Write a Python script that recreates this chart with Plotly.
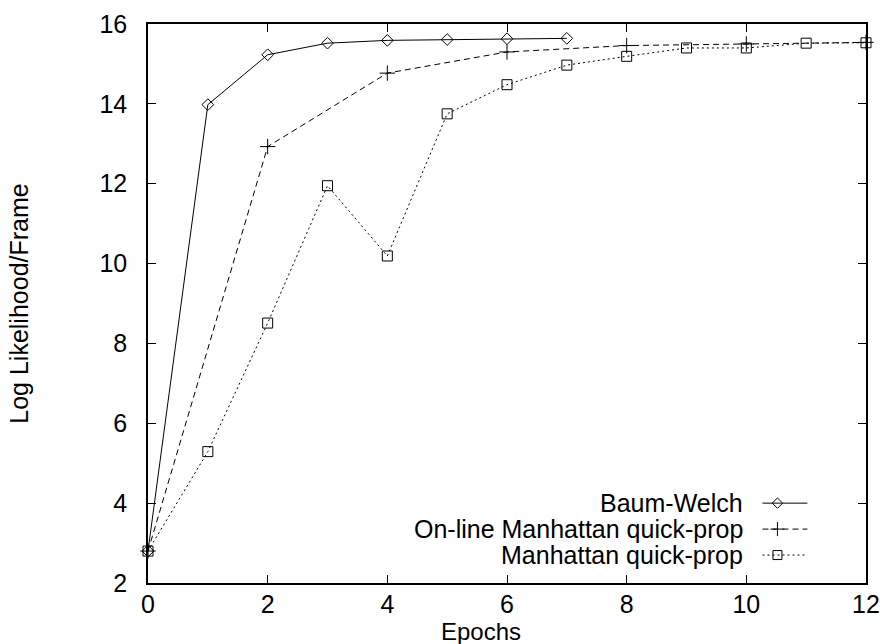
import plotly.graph_objects as go

# Training curves: log likelihood per frame against training epochs
bw_epochs = [0, 1, 2, 3, 4, 5, 6, 7]
bw_loglik = [2.80, 13.98, 15.23, 15.52, 15.59, 15.61, 15.63, 15.64]

online_epochs = [0, 2, 4, 6, 8, 10, 12]
online_loglik = [2.80, 12.93, 14.77, 15.30, 15.46, 15.50, 15.54]

mqp_epochs = [0, 1, 2, 3, 4, 5, 6, 7, 8, 9, 10, 11, 12]
mqp_loglik = [2.80, 5.29, 8.51, 11.95, 10.19, 13.75, 14.48, 14.97, 15.19,
              15.40, 15.40, 15.52, 15.53]

series_names = ["Baum-Welch", "On-line Manhattan quick-prop", "Manhattan quick-prop"]
x_ticks = [0, 2, 4, 6, 8, 10, 12]
y_ticks = [2, 4, 6, 8, 10, 12, 14, 16]

FONT = "Liberation Sans, Arial, Helvetica, sans-serif"
FS = 25
styles = [
    dict(dash="solid", symbol="diamond-open", size=9),
    dict(dash="6px,4px", symbol="cross-thin", size=11),
    dict(dash="2px,3px", symbol="square-open", size=10),
]
data = [(bw_epochs, bw_loglik), (online_epochs, online_loglik), (mqp_epochs, mqp_loglik)]

fig = go.Figure()
for (xs, ys), st in zip(data, styles):
    fig.add_trace(go.Scatter(
        x=xs, y=ys, mode="lines+markers", showlegend=False, cliponaxis=False,
        line=dict(color="black", width=1, dash=st["dash"]),
        marker=dict(symbol=st["symbol"], size=st["size"], color="black",
                    line=dict(color="black", width=1)),
    ))

# Key in the lower right: label, then a short sample of line and marker
key_text_x = 9.98
key_line_x = [10.27, 11.02]
key_mark_x = 10.52
key_rows_y = [4.0, 3.35, 2.70]
for name, st, ky in zip(series_names, styles, key_rows_y):
    fig.add_trace(go.Scatter(
        x=key_line_x, y=[ky, ky], mode="lines", showlegend=False, hoverinfo="skip",
        line=dict(color="black", width=1, dash=st["dash"]),
    ))
    fig.add_trace(go.Scatter(
        x=[key_mark_x], y=[ky], mode="markers", showlegend=False, hoverinfo="skip",
        marker=dict(symbol=st["symbol"], size=st["size"] - 1, color="black",
                    line=dict(color="black", width=1)),
    ))
    fig.add_annotation(x=key_text_x, y=ky, text=name, showarrow=False,
                       xanchor="right", yanchor="middle",
                       font=dict(family=FONT, size=FS, color="black"))

# x-axis title at the bottom edge, under the tick labels
fig.add_annotation(x=0.464, xref="paper", y=-0.1091, yref="paper", text="Epochs",
                   showarrow=False, xanchor="center", yanchor="bottom", borderpad=0,
                   yshift=-2, font=dict(family=FONT, size=24, color="black"))

axis_common = dict(
    showgrid=False, zeroline=False, showline=True, linecolor="black", linewidth=1.5,
    mirror="allticks", ticks="inside", ticklen=8, tickwidth=1, tickcolor="black",
    tickfont=dict(family=FONT, size=FS, color="black"), automargin=False,
)

fig.update_xaxes(range=[0, 12], tickvals=x_ticks, ticktext=[str(v) for v in x_ticks],
                 ticklabelstandoff=-2, **axis_common)
fig.update_yaxes(range=[2, 16], tickvals=y_ticks, ticktext=[str(v) for v in y_ticks],
                 ticklabelstandoff=14,
                 title=dict(text="Log Likelihood/Frame",
                            font=dict(family=FONT, size=FS, color="black"), standoff=64),
                 **axis_common)

fig.update_layout(
    width=880, height=644, autosize=False,
    margin=dict(l=148, r=14, t=24, b=61, pad=0),
    paper_bgcolor="white", plot_bgcolor="white",
    font=dict(family=FONT, size=FS, color="black"),
)

fig.write_html("out.html")
